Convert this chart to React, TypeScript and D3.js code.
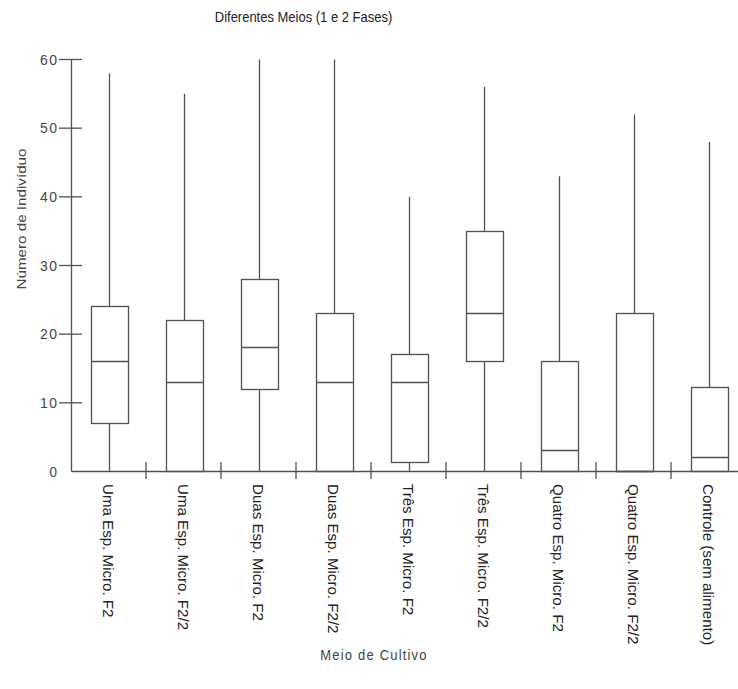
import React from "react";
import * as d3 from "d3";

const categories = [
  "Uma Esp. Micro. F2",
  "Uma Esp. Micro. F2/2",
  "Duas Esp. Micro. F2",
  "Duas Esp. Micro. F2/2",
  "Três Esp. Micro. F2",
  "Três Esp. Micro. F2/2",
  "Quatro Esp. Micro. F2",
  "Quatro Esp. Micro. F2/2",
  "Controle (sem alimento)",
];
const whiskerMax = [58, 55, 60, 60, 40, 56, 43, 52, 48];
const q3 = [24, 22, 28, 23, 17, 35, 16, 23, 12.3];
const medians = [16, 13, 18, 13, 13, 23, 3, 0, 2.1];
const q1 = [7, 0, 12, 0, 1.3, 16, 0, 0, 0];
const whiskerMin = [0, 0, 0, 0, 0, 0, 0, 0, 0];
const yTicks = [0, 10, 20, 30, 40, 50, 60];

const title = "Diferentes Meios (1 e 2 Fases)";
const xTitle = "Meio de Cultivo";
const yTitle = "Número de Indivíduo";

export default function App() {
  const W = 738;
  const H = 689;
  const x0 = 71.5;
  const bandW = 75;
  const k = 1.17; // vertical stretch of text
  const font = "'Liberation Sans', Arial, sans-serif";
  const stroke = "#505050";
  const textColor = "#444";

  const x = d3
    .scaleBand<string>()
    .domain(categories)
    .range([x0, x0 + bandW * categories.length])
    .padding(0);
  const y = d3.scaleLinear().domain([0, 60]).range([471.5, 59.5]);
  const boxW = x.bandwidth() * 0.5;

  const boxes = categories.map((c, i) => ({
    c,
    cx: Math.round((x(c) as number) + x.bandwidth() / 2) + 0.5,
    hi: whiskerMax[i],
    lo: whiskerMin[i],
    q3: q3[i],
    q1: q1[i],
    med: medians[i],
  }));

  return (
    <svg
      width={W}
      height={H}
      style={{ position: "absolute", left: 0, top: 0, background: "#fff" }}
      fontFamily={font}
    >
      <rect x={0} y={0} width={W} height={H} fill="#fff" />
      {/* title */}
      <text
        transform={`translate(303.5,22) scale(1,${k})`}
        textAnchor="middle"
        fontSize={13}
        fill="#222"
      >
        {title}
      </text>

      {/* boxes */}
      <g stroke={stroke} strokeWidth={1.3} fill="none">
        {boxes.map((b) => {
          const left = Math.round(b.cx - boxW / 2) + 0.5;
          const right = Math.round(b.cx + boxW / 2) + 0.5;
          const yq3 = Math.round(y(b.q3) - 0.5) + 0.5;
          const yq1 = Math.round(y(b.q1) - 0.5) + 0.5;
          const ym = Math.round(y(b.med) - 0.5) + 0.5;
          return (
            <g key={b.c}>
              <line x1={b.cx} x2={b.cx} y1={y(b.hi)} y2={yq3} />
              <line x1={b.cx} x2={b.cx} y1={yq1} y2={y(b.lo)} />
              <rect x={left} y={yq3} width={right - left} height={yq1 - yq3} fill="#fff" />
              <line x1={left} x2={right} y1={ym} y2={ym} />
            </g>
          );
        })}
      </g>

      {/* y axis */}
      <g stroke={stroke} strokeWidth={1.3}>
        <line x1={x0} x2={x0} y1={y(60)} y2={y(0)} />
        {yTicks
          .filter((t) => t > 0)
          .map((t) => (
            <line key={t} x1={59} x2={82} y1={y(t)} y2={y(t)} />
          ))}
      </g>
      {yTicks.map((t) => (
        <text
          key={t}
          transform={`translate(58.5,${y(t) + 5}) scale(1,1.1)`}
          textAnchor="end"
          fontSize={14}
          letterSpacing={1.5}
          fill={textColor}
        >
          {t}
        </text>
      ))}
      <text
        transform={`translate(26,219) scale(1,${k}) rotate(-90)`}
        textAnchor="middle"
        fontSize={13}
        fill={textColor}
      >
        {yTitle}
      </text>

      {/* x axis */}
      <g stroke={stroke} strokeWidth={1.3}>
        <line x1={x0} x2={W} y1={y(0)} y2={y(0)} />
        {categories.slice(1).map((c) => (
          <line
            key={c}
            x1={(x(c) as number) - 0.5}
            x2={(x(c) as number) - 0.5}
            y1={462}
            y2={479}
          />
        ))}
      </g>
      {boxes.map((b) => (
        <text
          key={b.c}
          transform={`translate(${b.cx - 7},484) scale(1,1.08) rotate(90)`}
          textAnchor="start"
          fontSize={14}
          fill="#222"
        >
          {b.c}
        </text>
      ))}
      <text
        transform={`translate(374,660) scale(1,${k})`}
        textAnchor="middle"
        fontSize={13}
        letterSpacing={1.2}
        fill={textColor}
      >
        {xTitle}
      </text>
    </svg>
  );
}
